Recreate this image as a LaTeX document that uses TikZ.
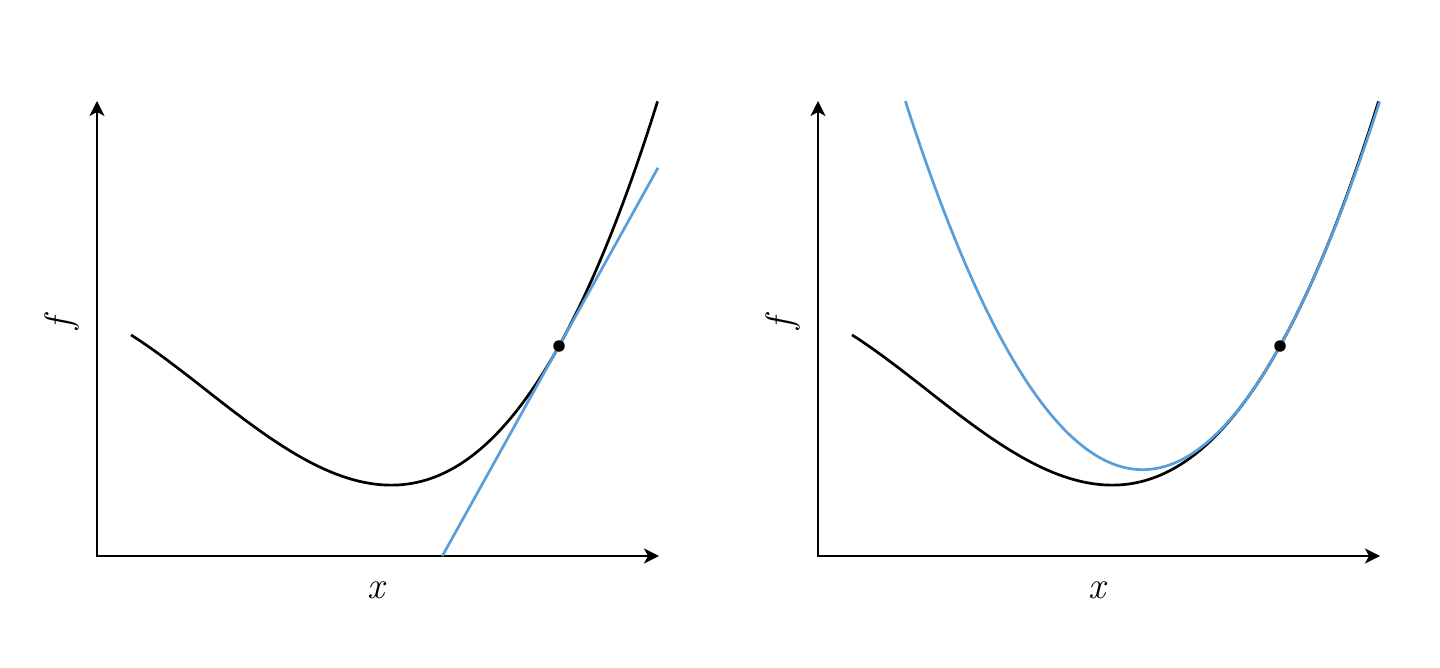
\documentclass[tikz,border=0pt]{standalone}
\usetikzlibrary{arrows.meta}
\definecolor{tanblue}{RGB}{88,158,218}
\begin{document}
\begin{tikzpicture}[x=1pt,y=-1pt,
  axis/.style={line width=2pt,{Stealth[length=15pt,width=15pt,inset=4pt]}-{Stealth[length=15pt,width=15pt,inset=4pt]}},
  fcurve/.style={line width=2.7pt,black},
  approx/.style={line width=2.7pt,tanblue},
  lbl/.style={font=\fontsize{38}{40}\selectfont\itshape},
  pt/.style={circle,fill=black,inner sep=0pt,minimum size=11.5pt},
  declare function={
    fb(\s)=2.10+(\s)*(1.8+(\s)*(0.655+(\s)*(0.0405-0.003*(\s))));
    tl(\s)=2.10+1.8*(\s);
    pq(\s)=2.10+(\s)*(1.8+0.655*(\s));}]
\useasboundingbox (0,0) rectangle (1440,668);
% ---------- left panel ----------
\coordinate (Lo) at (97,556);
\coordinate (Ly) at (97,101);
\coordinate (Lx) at (659,556);
\draw[axis] (Ly) -- (Lo) -- (Lx);
\draw[fcurve] plot[domain=-4.28:0.987,samples=150,variable=\s] ({559+100*\s},{556-100*fb(\s)});
\coordinate (Lt0) at ({559-100*2.10/1.8},556);
\coordinate (Lt1) at (658,{556-100*tl(0.99)});
\draw[approx] (Lt0) -- (Lt1);
\node[pt] (Lp) at (559,346) {};
\node[lbl] (Lxl) at (376,590) {x};
\node[lbl,rotate=90] (Lfl) at (62,324) {f};
% ---------- right panel ----------
\begin{scope}[xshift=721pt]
\coordinate (Ro) at (97,556);
\coordinate (Ry) at (97,101);
\coordinate (Rx) at (659,556);
\draw[axis] (Ry) -- (Ro) -- (Rx);
\draw[fcurve] plot[domain=-4.28:0.987,samples=150,variable=\s] ({559+100*\s},{556-100*fb(\s)});
\draw[approx] plot[domain=-3.746:0.998,samples=150,variable=\s] ({559+100*\s},{556-100*pq(\s)});
\node[pt] (Rp) at (559,346) {};
\node[lbl] (Rxl) at (376,590) {x};
\node[lbl,rotate=90] (Rfl) at (62,324) {f};
\end{scope}
\end{tikzpicture}
\end{document}
